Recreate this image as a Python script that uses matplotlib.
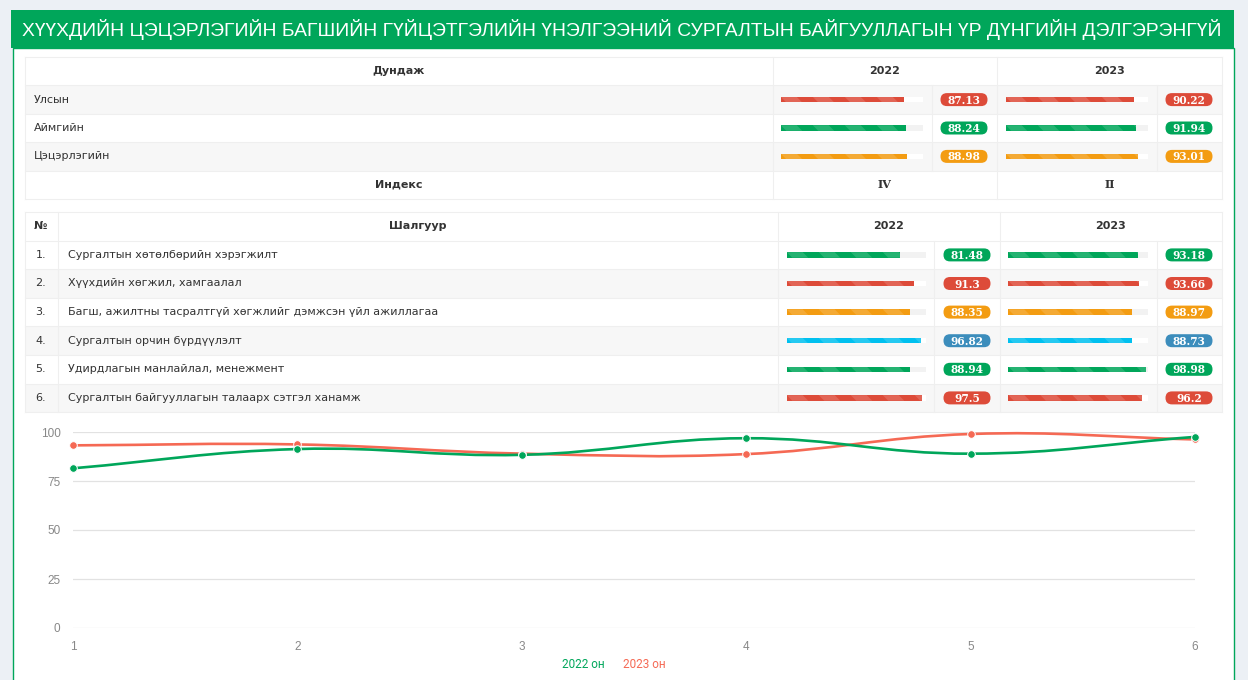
import numpy as np
import matplotlib
matplotlib.use('Agg')
import matplotlib.pyplot as plt
from matplotlib.patches import Rectangle, FancyBboxPatch, Polygon, PathPatch
from matplotlib.path import Path

# ---- data ----
title = 'ХҮҮХДИЙН ЦЭЦЭРЛЭГИЙН БАГШИЙН ГҮЙЦЭТГЭЛИЙН ҮНЭЛГЭЭНИЙ СУРГАЛТЫН БАЙГУУЛЛАГЫН ҮР ДҮНГИЙН ДЭЛГЭРЭНГҮЙ'
years = ['2022', '2023']

avg_labels = ['Улсын', 'Аймгийн', 'Цэцэрлэгийн']
avg_2022 = [87.13, 88.24, 88.98]
avg_2023 = [90.22, 91.94, 93.01]
index_2022 = 'IV'
index_2023 = 'II'

crit_nums = ['1.', '2.', '3.', '4.', '5.', '6.']
crit_labels = [
    'Сургалтын хөтөлбөрийн хэрэгжилт',
    'Хүүхдийн хөгжил, хамгаалал',
    'Багш, ажилтны тасралтгүй хөгжлийг дэмжсэн үйл ажиллагаа',
    'Сургалтын орчин бүрдүүлэлт',
    'Удирдлагын манлайлал, менежмент',
    'Сургалтын байгууллагын талаарх сэтгэл ханамж',
]
crit_2022 = [81.48, 91.3, 88.35, 96.82, 88.94, 97.5]
crit_2023 = [93.18, 93.66, 88.97, 88.73, 98.98, 96.2]

chart_x = [1, 2, 3, 4, 5, 6]
chart_yticks = [0, 25, 50, 75, 100]
legend_labels = ['2022 он', '2023 он']

# ---- styles ----
RED, GREEN, ORANGE, AQUA, BLUE = '#dd4b39', '#00a65a', '#f39c12', '#00c0ef', '#3c8dbc'
avg_bar_colors = [RED, GREEN, ORANGE]
avg_badge_colors = [RED, GREEN, ORANGE]
crit_bar_colors = [GREEN, RED, ORANGE, AQUA, GREEN, RED]
crit_badge_colors = [GREEN, RED, ORANGE, BLUE, GREEN, RED]
LINE_GREEN, LINE_RED = '#00a65a', '#f56954'
BORDER = '#efefef'
STRIPE_ROW = '#f7f7f7'
TXT = '#333333'

W, H = 1248, 680
fig = plt.figure(figsize=(W / 100, H / 100), dpi=100)
fig.patch.set_facecolor('#ecf0f5')

# pixel-space canvas for the card and tables
bg = fig.add_axes([0, 0, 1, 1])
bg.set_xlim(0, W)
bg.set_ylim(H, 0)
bg.axis('off')

# card + header
bg.add_patch(Rectangle((12.5, 48), 1221, 640, facecolor='white', edgecolor=GREEN, lw=1))
bg.add_patch(Rectangle((11, 10), 1223, 38, facecolor=GREEN, edgecolor='none'))
bg.text(22, 30, title, color='white', fontsize=13.9, family='Liberation Sans', va='center', ha='left')


def hline(x0, x1, y):
    bg.plot([x0, x1], [y, y], color=BORDER, lw=0.8, zorder=2)


def vline(x, y0, y1):
    bg.plot([x, x], [y0, y1], color=BORDER, lw=0.8, zorder=2)


def badge(cx, cy, val, color):
    bg.add_patch(FancyBboxPatch((cx - 23.5, cy - 6.5), 47, 13,
                                boxstyle='round,pad=0,rounding_size=6.5',
                                facecolor=color, edgecolor='none', zorder=3))
    bg.text(cx, cy + 0.5, val, color='white', fontsize=7.6, family='DejaVu Serif',
            weight='bold', ha='center', va='center', zorder=4)


def bar_column(x0, x1, y_top, y_bot, values, colors, gray_rows):
    ax = fig.add_axes([x0 / W, 1 - y_bot / H, (x1 - x0) / W, (y_bot - y_top) / H])
    n = len(values)
    ax.set_xlim(0, 100)
    ax.set_ylim(n - 0.5, -0.5)
    ax.axis('off')
    row_h = (y_bot - y_top) / n
    bh = 5.5 / row_h
    track = ['white' if g else '#f2f2f2' for g in gray_rows]
    ax.barh(range(n), [100] * n, height=bh, color=track)
    bars = ax.barh(range(n), values, height=bh, color=colors)
    sx = 100 / (x1 - x0)   # data units per px
    for i, b in enumerate(bars):
        top, bot = i - bh / 2, i + bh / 2
        hp = 5.5
        for k in range(-1, int((x1 - x0) / 32) + 2):
            p = k * 32
            pts = [(p * sx, top), ((p + 16) * sx, top),
                   ((p + 16 + hp) * sx, bot), ((p + hp) * sx, bot)]
            poly = Polygon(pts, closed=True, facecolor='white', alpha=0.15, edgecolor='none')
            ax.add_patch(poly)
            poly.set_clip_path(b)
    return ax


# ---- table 1: averages ----
L, R = 25, 1222
t1_rh = 28.4
t1_y = [57 + t1_rh * i for i in range(6)]
t1_cols = [772.5, 997]
t1_sub = [932, 1157]

for i in range(len(avg_labels)):
    if i % 2 == 0:
        bg.add_patch(Rectangle((L, t1_y[i + 1]), R - L, t1_rh, facecolor=STRIPE_ROW, edgecolor='none', zorder=1))
for y in t1_y:
    hline(L, R, y)
for x in [L, R] + t1_cols:
    vline(x, t1_y[0], t1_y[-1])
for x in t1_sub:
    vline(x, t1_y[1], t1_y[4])

hc = (t1_y[0] + t1_y[1]) / 2
bg.text((L + t1_cols[0]) / 2, hc, 'Дундаж', fontsize=8, weight='bold', color=TXT, ha='center', va='center', zorder=4)
bg.text((t1_cols[0] + t1_cols[1]) / 2, hc, years[0], fontsize=8, weight='bold', color=TXT, ha='center', va='center', zorder=4)
bg.text((t1_cols[1] + R) / 2, hc, years[1], fontsize=8, weight='bold', color=TXT, ha='center', va='center', zorder=4)

for i, lab in enumerate(avg_labels):
    cy = (t1_y[i + 1] + t1_y[i + 2]) / 2
    bg.text(34, cy, lab, fontsize=8, color=TXT, ha='left', va='center', zorder=4)
    badge(964, cy, f'{avg_2022[i]:.2f}', avg_badge_colors[i])
    badge(1189, cy, f'{avg_2023[i]:.2f}', avg_badge_colors[i])

ic = (t1_y[4] + t1_y[5]) / 2
bg.text((L + t1_cols[0]) / 2, ic, 'Индекс', fontsize=8, weight='bold', color=TXT, ha='center', va='center', zorder=4)
bg.text((t1_cols[0] + t1_cols[1]) / 2, ic, index_2022, fontsize=8, weight='bold', family='DejaVu Serif', color=TXT, ha='center', va='center', zorder=4)
bg.text((t1_cols[1] + R) / 2, ic, index_2023, fontsize=8, weight='bold', family='DejaVu Serif', color=TXT, ha='center', va='center', zorder=4)

gray1 = [i % 2 == 0 for i in range(len(avg_labels))]
bar_column(780.7, 922.7, t1_y[1], t1_y[4], avg_2022, avg_bar_colors, gray1)
bar_column(1005.7, 1147.7, t1_y[1], t1_y[4], avg_2023, avg_bar_colors, gray1)

# ---- table 2: criteria ----
t2_rh = 28.6
t2_y = [212 + t2_rh * i for i in range(8)]
t2_cols = [58, 777.5, 999.5]
t2_sub = [934, 1157]

for i in range(len(crit_labels)):
    if i % 2 == 1:
        bg.add_patch(Rectangle((L, t2_y[i + 1]), R - L, t2_rh, facecolor=STRIPE_ROW, edgecolor='none', zorder=1))
for y in t2_y:
    hline(L, R, y)
for x in [L, R] + t2_cols:
    vline(x, t2_y[0], t2_y[-1])
for x in t2_sub:
    vline(x, t2_y[1], t2_y[-1])

hc = (t2_y[0] + t2_y[1]) / 2
bg.text(34, hc, '№', fontsize=8, weight='bold', color=TXT, ha='left', va='center', zorder=4)
bg.text((t2_cols[0] + t2_cols[1]) / 2, hc, 'Шалгуур', fontsize=8, weight='bold', color=TXT, ha='center', va='center', zorder=4)
bg.text((t2_cols[1] + t2_cols[2]) / 2, hc, years[0], fontsize=8, weight='bold', color=TXT, ha='center', va='center', zorder=4)
bg.text((t2_cols[2] + R) / 2, hc, years[1], fontsize=8, weight='bold', color=TXT, ha='center', va='center', zorder=4)

for i, lab in enumerate(crit_labels):
    cy = (t2_y[i + 1] + t2_y[i + 2]) / 2
    bg.text(41, cy, crit_nums[i], fontsize=8, color=TXT, ha='center', va='center', zorder=4)
    bg.text(68, cy, lab, fontsize=8, color=TXT, ha='left', va='center', zorder=4)
    badge(967, cy, str(crit_2022[i]), crit_badge_colors[i])
    badge(1189, cy, str(crit_2023[i]), crit_badge_colors[i])

gray2 = [i % 2 == 1 for i in range(len(crit_labels))]
bar_column(786.7, 925.7, t2_y[1], t2_y[-1], crit_2022, crit_bar_colors, gray2)
bar_column(1008.3, 1147.7, t2_y[1], t2_y[-1], crit_2023, crit_bar_colors, gray2)

# ---- line chart ----
cx0, cx1, cy_top, cy_bot = 73, 1195, 432, 628
ax = fig.add_axes([cx0 / W, 1 - cy_bot / H, (cx1 - cx0) / W, (cy_bot - cy_top) / H])
ax.set_xlim(1, 6)
ax.set_ylim(0, 100)
ax.patch.set_alpha(0)
for s in ax.spines.values():
    s.set_visible(False)
ax.set_yticks(chart_yticks)
ax.set_xticks(chart_x)
ax.grid(axis='y', color='#e2e2e2', lw=0.9)
ax.tick_params(length=0, labelsize=8.5, labelcolor='#888888', pad=9)
for t in ax.get_xticklabels() + ax.get_yticklabels():
    t.set_family('Liberation Sans')

kx = (cx1 - cx0) / 5.0
ky = (cy_bot - cy_top) / 100.0


def smooth_path(xs, ys, t=0.4):
    # Chart.js style bezier (tension 0.4), computed in pixel space
    P = np.column_stack([(np.array(xs) - 1) * kx, np.array(ys) * ky])
    n = len(P)
    cps = []
    for i in range(n):
        prev = P[max(i - 1, 0)]
        cur = P[i]
        nxt = P[min(i + 1, n - 1)]
        d01 = np.hypot(*(cur - prev))
        d12 = np.hypot(*(nxt - cur))
        s = d01 + d12
        fa = t * d01 / s if s else 0
        fb = t * d12 / s if s else 0
        cps.append((cur - fa * (nxt - prev), cur + fb * (nxt - prev)))
    verts = [P[0]]
    codes = [Path.MOVETO]
    for i in range(n - 1):
        verts += [cps[i][1], cps[i + 1][0], P[i + 1]]
        codes += [Path.CURVE4] * 3
    V = np.array(verts)
    V[:, 0] = V[:, 0] / kx + 1
    V[:, 1] = V[:, 1] / ky
    return Path(V, codes)


for vals, col in [(crit_2023, LINE_RED), (crit_2022, LINE_GREEN)]:
    ax.add_patch(PathPatch(smooth_path(chart_x, vals), facecolor='none', edgecolor=col,
                           lw=1.9, clip_on=False, zorder=3))
    ax.plot(chart_x, vals, 'o', color=col, ms=5.5, mec='white', mew=0.7, clip_on=False, zorder=4)

bg.text(562, 665, legend_labels[0], color=LINE_GREEN, fontsize=8.5, family='Roboto', ha='left', va='center')
bg.text(623, 665, legend_labels[1], color=LINE_RED, fontsize=8.5, family='Roboto', ha='left', va='center')

fig.savefig('out.png', dpi=100, facecolor=fig.get_facecolor())
